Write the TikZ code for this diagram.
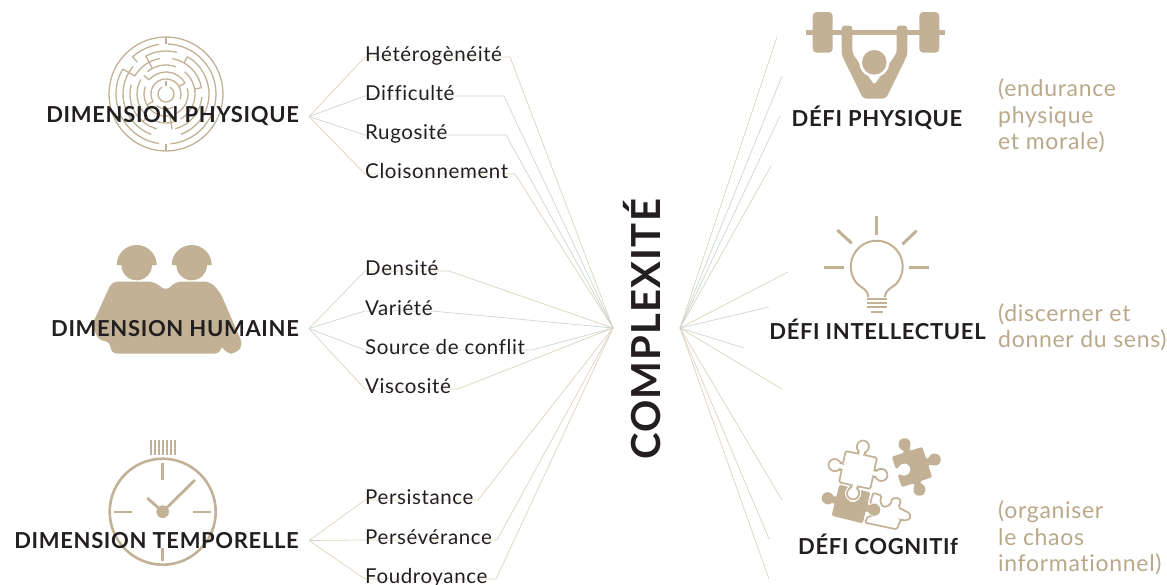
\documentclass[tikz,border=0pt]{standalone}
\usepackage{fontspec}
\setmainfont{Lato}
\newfontfamily\spacedfont[LetterSpace=3,Ligatures=CommonOff]{Lato}
\definecolor{sandtan}{HTML}{C2B195}
\definecolor{notetan}{HTML}{BAA88A}
\definecolor{inkdark}{HTML}{231F20}
\definecolor{wiretan}{HTML}{DDD2C1}
\definecolor{wiregrey}{HTML}{CBD6D1}
\tikzset{
    dimlabel/.style={font=\spacedfont\bfseries\fontsize{22}{25}\selectfont, text=inkdark, anchor=east, inner xsep=10pt, inner ysep=0pt},
    defilabel/.style={font=\spacedfont\bfseries\fontsize{22}{25}\selectfont, text=inkdark, inner sep=0pt},
    itemlabel/.style={font=\spacedfont\fontsize{20.5}{23}\selectfont, text=inkdark, anchor=base west, inner sep=0pt},
    notelabel/.style={font=\spacedfont\fontsize{23}{26.5}\selectfont, text=notetan, anchor=west, align=left, inner sep=0pt},
    wire/.style={line width=0.7pt},
    mazeline/.style={draw=sandtan, line width=1.3pt},
    iconline/.style={draw=sandtan, line width=2.6pt},
    puzzleopen/.style={draw=sandtan, line width=1.7pt, fill=white, rounded corners=1.5pt, preaction={draw=white, line width=4pt}},
    puzzlefull/.style={fill=sandtan, rounded corners=1.5pt, preaction={draw=white, line width=1.5pt}}
}
% Sides of a puzzle piece, walked clockwise
\newcommand{\tabT}{-- (-3,16) -- (-3,18.8) arc[start angle=240, end angle=-60, radius=6pt] -- (3,16)}
\newcommand{\tabR}{-- (16,3) -- (18.8,3) arc[start angle=150, end angle=-150, radius=6pt] -- (16,-3)}
\newcommand{\tabB}{-- (3,-16) -- (3,-18.8) arc[start angle=60, end angle=-240, radius=6pt] -- (-3,-16)}
\newcommand{\tabL}{-- (-16,-3) -- (-18.8,-3) arc[start angle=-30, end angle=-330, radius=6pt] -- (-16,3)}
\newcommand{\notchT}{-- (-3,16) -- (-3,13.2) arc[start angle=120, end angle=420, radius=6pt] -- (3,16)}
\newcommand{\notchL}{-- (-16,-3) -- (-13.2,-3) arc[start angle=-150, end angle=150, radius=6pt] -- (-16,3)}
\begin{document}
\begin{tikzpicture}[x=1pt,y=-1pt]
    \useasboundingbox (0,0) rectangle (1167,584);

    % Maze
    \begin{scope}[shift={(166,94)}]
        \foreach \r/\s/\e in {57/0/360, 50/-85/88, 50/98/132, 50/150/262, 43/-70/60, 43/75/118, 43/140/250,
            36/10/80, 36/100/150, 36/165/255, 36/-75/-5, 29/-60/50, 29/70/130, 29/150/230, 29/250/285,
            22/30/140, 22/160/280, 22/-60/15, 15/-20/210, 15/230/300, 8/-240/60} {
            \draw[mazeline] (\s:\r pt) arc[start angle=\s, end angle=\e, radius=\r pt];
        }
        \foreach \a/\i/\o in {90/50/57, 270/50/57, 132/43/50, 150/36/50, 118/29/43, 60/36/43, 10/29/36, 230/29/36,
            140/22/29, 30/15/22, 280/22/36, 210/15/22, 90/8/13} {
            \draw[mazeline] (\a:\i pt) -- (\a:\o pt);
        }
    \end{scope}

    % Two people
    \fill[sandtan] (116.7,265) arc[start angle=180, end angle=0, radius=20pt] -- (152,265) arc[start angle=0, end angle=-180, radius=15.3pt] -- cycle;
    \fill[sandtan] (171.7,265) arc[start angle=180, end angle=0, radius=20pt] -- (207,265) arc[start angle=0, end angle=-180, radius=15.3pt] -- cycle;
    \fill[sandtan, rounded corners=6pt] (112,281.5) -- (154,281.5) -- (166,291) -- (176,281.5) -- (210,281.5)
        -- (220,292) -- (243,345) -- (236,353.5) -- (226,353.5) -- (221,344) -- (221,353.5) -- (111,353.5)
        -- (110,341) -- (99,341) -- (92,325) -- cycle;

    % Watch
    \draw[iconline] (162.7,511.7) circle[radius=53pt];
    \fill[sandtan] (162.7,511.7) circle[radius=6.3pt];
    \draw[sandtan, line width=2.8pt] (162.7,511.7) -- (195,480);
    \draw[sandtan, line width=2.8pt] (162.7,511.7) -- (147.3,498);
    \foreach \xa/\ya/\xb/\yb in {162.7/463/162.7/480, 162.7/548/162.7/561, 114/512/131.7/512, 193/512/211/512} {
        \draw[sandtan, line width=2.6pt] (\xa,\ya) -- (\xb,\yb);
    }
    \foreach \x in {150.5,154.5,...,175} {
        \draw[sandtan, line width=2pt] (\x,440) -- (\x,455);
    }

    % Barbell
    \fill[sandtan] (806,29.5) rectangle (945,34.5);
    \fill[sandtan, rounded corners=4pt] (812.7,12) rectangle (832.7,52.7);
    \fill[sandtan, rounded corners=4pt] (919.3,12) rectangle (939.3,52.7);
    \fill[sandtan, rounded corners=3pt] (841.7,25.5) -- (852.3,25.5) -- (852.3,53) -- (874.3,85) -- (896.7,53)
        -- (896.7,25.5) -- (907.3,25.5) -- (907.3,55) -- (886,98.5) -- (863,98.5) -- (841.7,55) -- cycle;
    \fill[white] (874.3,62.3) circle[radius=15pt];
    \fill[sandtan] (874.3,62.3) circle[radius=12.3pt];

    % Bulb
    \draw[sandtan, line width=2pt] (868.3,297) .. controls (868,289) and (861,288) .. (856.8,283.4)
        arc[start angle=220, end angle=-40, radius=26pt] .. controls (892.5,288) and (885.3,289) .. (885,297);
    \foreach \xa/\xb/\y in {866.7/886.7/299.3, 866.7/886.7/303.3, 866.7/886.7/307.3, 870.7/882.7/311.7} {
        \draw[sandtan, line width=2pt] (\xa,\y) -- (\xb,\y);
    }
    \foreach \xa/\ya/\xb/\yb in {876.7/216/876.7/235, 837.3/230/851.7/243.3, 916.7/230.7/902.3/244.3, 824.3/267/844.3/267, 909.3/267/929.3/267} {
        \draw[sandtan, line width=3pt] (\xa,\ya) -- (\xb,\yb);
    }

    % Puzzle pieces
    \begin{scope}[shift={(815,430)}, x=0.3333pt, y=-0.3333pt]
        \draw[puzzleopen] (175,188) -- (200,197) -- (195,215) -- (205,232) -- (225,225) -- (232,205) -- (252,204)
            -- (258,216) -- (250,232) -- (265,240) -- (285,250) -- (285,268) -- (265,272) -- (258,268) -- (245,298)
            -- (150,278) -- (158,260) -- (185,255) -- (195,238) -- (185,222) -- (165,220) -- cycle;
    \end{scope}
    \begin{scope}[shift={(912,467)}, rotate=18, x=1pt, y=1pt]
        \fill[puzzlefull] (-16,16) \tabT -- (16,16) \tabR -- (16,-16) \tabB -- (-16,-16) \notchL -- cycle;
    \end{scope}
    \begin{scope}[shift={(851,504)}, rotate=-14, x=1pt, y=1pt]
        \fill[puzzlefull] (-16,16) \notchT -- (16,16) \tabR -- (16,-16) -- (-16,-16) \tabL -- cycle;
    \end{scope}
    \begin{scope}[shift={(858,470)}, rotate=-12, x=1pt, y=1pt]
        \draw[puzzleopen] (-16,16) \tabT -- (16,16) \tabR -- (16,-16) \tabB -- (-16,-16) \tabL -- cycle;
    \end{scope}

    % Centre title
    \coordinate (hubL) at (613,328);
    \coordinate (hubR) at (680,328);
    \node[font=\spacedfont\bfseries\fontsize{40}{44}\selectfont, text=inkdark, rotate=90, inner sep=0pt] (title) at (642,329.5) {COMPLEXITÉ};

    % Dimensions
    \node[dimlabel] (dimP) at (309,116.5) {DIMENSION PHYSIQUE};
    \node[dimlabel] (dimH) at (309,328.5) {DIMENSION HUMAINE};
    \node[dimlabel] (dimT) at (309,540.5) {DIMENSION TEMPORELLE};

    % Items
    \foreach \name/\dim/\label/\yy/\xend/\col in {
        hetero/dimP/Hétérogènéité/57/510/wiretan, diffic/dimP/Difficulté/96/504/wiregrey,
        rugos/dimP/Rugosité/135/506/wiregrey, cloison/dimP/Cloisonnement/174/515/wiretan,
        densite/dimH/Densité/271/449/wiretan, variete/dimH/Variété/311/432/wiregrey,
        source/dimH/Source de conflit/350/532/wiregrey, viscos/dimH/Viscosité/389/458/wiretan,
        persist/dimT/Persistance/500/478/wiretan, persev/dimT/Persévérance/540/497/wiretan,
        foudro/dimT/Foudroyance/579/496/wiretan} {
        \coordinate (a\name) at (365,\yy);
        \coordinate (b\name) at (\xend,\yy);
        \draw[wire, draw=\col] (\dim.east) -- (a\name) -- (b\name) -- (hubL);
        \node[itemlabel] (\name) at ([yshift=-4.6pt]a\name) {\label};
    }

    % Rays
    \foreach \n/\x/\y/\col in {1/777/37/wiretan, 2/782/76/wiregrey, 3/780/116/wiregrey, 4/771/166/wiretan,
        5/788/272/wiretan, 6/769/307/wiregrey, 7/744/348/wiregrey, 8/782/389/wiretan,
        9/782/500/wiretan, 10/769/539/wiretan, 11/769/579/wiretan} {
        \coordinate (r\n) at (\x,\y);
        \draw[wire, draw=\col] (hubR) -- (r\n);
    }

    % Challenges
    \node[defilabel] (defiP) at (877,117.5) {DÉFI PHYSIQUE};
    \node[defilabel] (defiI) at (877.5,329.5) {DÉFI INTELLECTUEL};
    \node[defilabel] (defiC) at (878,544.5) {DÉFI COGNITIf};

    % Notes
    \node[notelabel] (noteP) at (998,116) {(endurance\\physique\\et morale)};
    \node[notelabel] (noteI) at (998,327.5) {(discerner et\\donner du sens)};
    \node[notelabel] (noteC) at (998,538) {(organiser\\le chaos\\informationnel)};
\end{tikzpicture}
\end{document}
